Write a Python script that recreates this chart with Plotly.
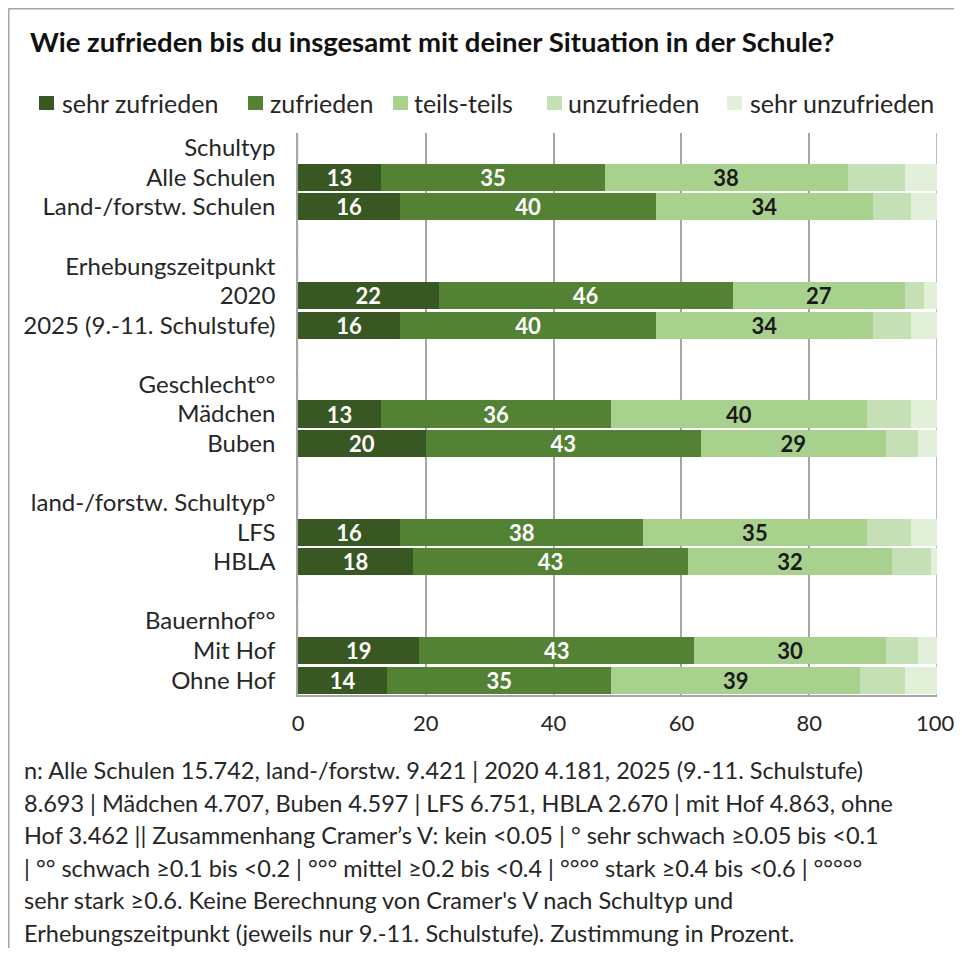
import plotly.graph_objects as go

# ---- data ----
categories = ["Alle Schulen", "Land-/forstw. Schulen", "2020", "2025 (9.-11. Schulstufe)",
              "Mädchen", "Buben", "LFS", "HBLA", "Mit Hof", "Ohne Hof"]
headers = {"Alle Schulen": "Schultyp", "2020": "Erhebungszeitpunkt", "Mädchen": "Geschlecht°°",
           "LFS": "land-/forstw. Schultyp°", "Mit Hof": "Bauernhof°°"}
series_names = ["sehr zufrieden", "zufrieden", "teils-teils", "unzufrieden", "sehr unzufrieden"]
sehr_zufrieden = [13, 16, 22, 16, 13, 20, 16, 18, 19, 14]
zufrieden = [35, 40, 46, 40, 36, 43, 38, 43, 43, 35]
teils_teils = [38, 34, 27, 34, 40, 29, 35, 32, 30, 39]
unzufrieden = [9, 6, 3, 6, 7, 5, 7, 6, 5, 7]
sehr_unzufrieden = [5, 4, 2, 4, 4, 3, 4, 1, 3, 5]
x_ticks = [0, 20, 40, 60, 80, 100]
title_text = "Wie zufrieden bis du insgesamt mit deiner Situation in der Schule?"
footnote_lines = [
    "n: Alle Schulen 15.742, land-/forstw. 9.421 | 2020 4.181, 2025 (9.-11. Schulstufe)",
    "8.693 | Mädchen 4.707, Buben 4.597 | LFS 6.751, HBLA 2.670 | mit Hof 4.863, ohne",
    "Hof 3.462 || Zusammenhang Cramer’s V: kein <0.05 | ° sehr schwach ≥0.05 bis <0.1",
    "| °° schwach ≥0.1 bis <0.2 | °°° mittel ≥0.2 bis <0.4 | °°°° stark ≥0.4 bis <0.6 | °°°°°",
    "sehr stark ≥0.6. Keine Berechnung von Cramer's V nach Schultyp und",
    "Erhebungszeitpunkt (jeweils nur 9.-11. Schulstufe). Zustimmung in Prozent.",
]

colors = ["#385723", "#548235", "#a9d18e", "#c5e0b4", "#e2f0d9"]
label_colors = ["white", "white", "#1a1a1a", None, None]

# category order including group headers and blank separator rows
order = []
blank = 0
for c in categories:
    if c in headers:
        if order:
            blank += 1
            order.append(" " * blank)
        order.append(headers[c])
    order.append(c)

FONT = "Lato"
TXT = "#262626"
GRID = "#a6a6a6"
OFF = 8                      # page body margin
SW, SH = 962, 956            # screenshot size
W, H = SW - 2 * OFF, SH - 2 * OFF
# plot area in screenshot pixels
PX0, PX1, PY0, PY1 = 298, 937, 133, 695
L, R, T, B = PX0 - OFF, W - (PX1 - OFF), PY0 - OFF, H - (PY1 - OFF)
PW, PH = PX1 - PX0, PY1 - PY0


def sx(s):
    return (s - PX0) / PW


def sy(s):
    return (PY1 - s) / PH


fig = go.Figure()
all_vals = [sehr_zufrieden, zufrieden, teils_teils, unzufrieden, sehr_unzufrieden]
for name, vals, col, lc in zip(series_names, all_vals, colors, label_colors):
    fig.add_trace(go.Bar(
        y=categories, x=vals, name=name, orientation="h",
        marker=dict(color=col, line=dict(width=0)),
        text=[str(v) for v in vals] if lc else None,
        textposition="inside" if lc else "none",
        textangle=0, insidetextanchor="middle", constraintext="none",
        textfont=dict(family=FONT, size=22, color=lc if lc else "black", weight="bold"),
        showlegend=False,
        hoverinfo="x+y+name",
    ))

# invisible helper so header / blank rows exist on the category axis
fig.add_trace(go.Bar(y=order, x=[0] * len(order), orientation="h", showlegend=False,
                     marker=dict(color="rgba(0,0,0,0)"), hoverinfo="skip"))

# the last tick label sits at the very page edge; it is drawn as an annotation so it is not cut
axis_ticks = x_ticks[:-1]
fig.update_layout(
    barmode="stack", bargap=0.085,
    width=W, height=H,
    margin=dict(l=L, r=R, t=T, b=B, autoexpand=False),
    paper_bgcolor="white", plot_bgcolor="white",
    font=dict(family=FONT, size=19, color=TXT),
    uniformtext=dict(minsize=10, mode="show"),
    showlegend=False,
    title=dict(text="<b>" + title_text + "</b>", x=(30 - OFF) / W, xanchor="left", xref="container",
               y=1 - (42 - OFF) / H, yanchor="middle", yref="container",
               font=dict(family=FONT, size=27.5, color="#111111")),
    xaxis=dict(range=[0, x_ticks[-1]], tickvals=axis_ticks, showgrid=True, gridcolor=GRID, gridwidth=1.5,
               zeroline=False, showline=True, linecolor=GRID, linewidth=1.5, ticks="",
               ticklabelstandoff=8, tickfont=dict(family=FONT, size=22, color=TXT)),
    yaxis=dict(type="category", categoryorder="array", categoryarray=order,
               range=[len(order) - 0.5, -0.5],
               showgrid=False, zeroline=False, showline=True, linecolor=GRID, linewidth=1.5,
               ticks="", ticklabelstandoff=16, tickfont=dict(family=FONT, size=24, color=TXT)),
)

fig.add_annotation(text=str(x_ticks[-1]), xref="x", yref="paper", x=x_ticks[-1], y=sy(722),
                   xanchor="center", yanchor="middle", xshift=-1.5, showarrow=False,
                   font=dict(family=FONT, size=22, color=TXT))

# gridline at the right end of the value axis (100)
fig.add_shape(type="line", xref="x", yref="paper", x0=x_ticks[-1], x1=x_ticks[-1], y0=0, y1=1,
              line=dict(color=GRID, width=1.5), layer="below")

# legend drawn as squares + labels at the reference positions
leg_sq = [(39, 54), (248, 263), (393, 408), (547, 562), (727, 742)]
leg_tx = [60, 268, 412, 566, 748]
leg_y = 103
for name, col, (a, b), tx in zip(series_names, colors, leg_sq, leg_tx):
    fig.add_shape(type="rect", xref="paper", yref="paper", x0=sx(a), x1=sx(b),
                  y0=sy(leg_y + 7), y1=sy(leg_y - 7), fillcolor=col, line=dict(width=0))
    fig.add_annotation(text=name, xref="paper", yref="paper", x=sx(tx), y=sy(leg_y),
                       xanchor="left", yanchor="middle", showarrow=False,
                       font=dict(family=FONT, size=25, color=TXT))

# frame lines (top and left)
fig.add_shape(type="line", xref="paper", yref="paper", x0=sx(OFF + 0.5), x1=sx(SW), y0=sy(OFF + 0.5),
              y1=sy(OFF + 0.5), line=dict(color=GRID, width=2))
fig.add_shape(type="line", xref="paper", yref="paper", x0=sx(OFF + 0.5), x1=sx(OFF + 0.5),
              y0=sy(OFF + 0.5), y1=sy(SH), line=dict(color=GRID, width=2))

for i, line in enumerate(footnote_lines):
    fig.add_annotation(text=line, xref="paper", yref="paper", x=sx(22), y=sy(770 + i * 32.6),
                       xanchor="left", yanchor="middle", showarrow=False,
                       font=dict(family=FONT, size=23.5, color=TXT))

fig.write_html("out.html")
